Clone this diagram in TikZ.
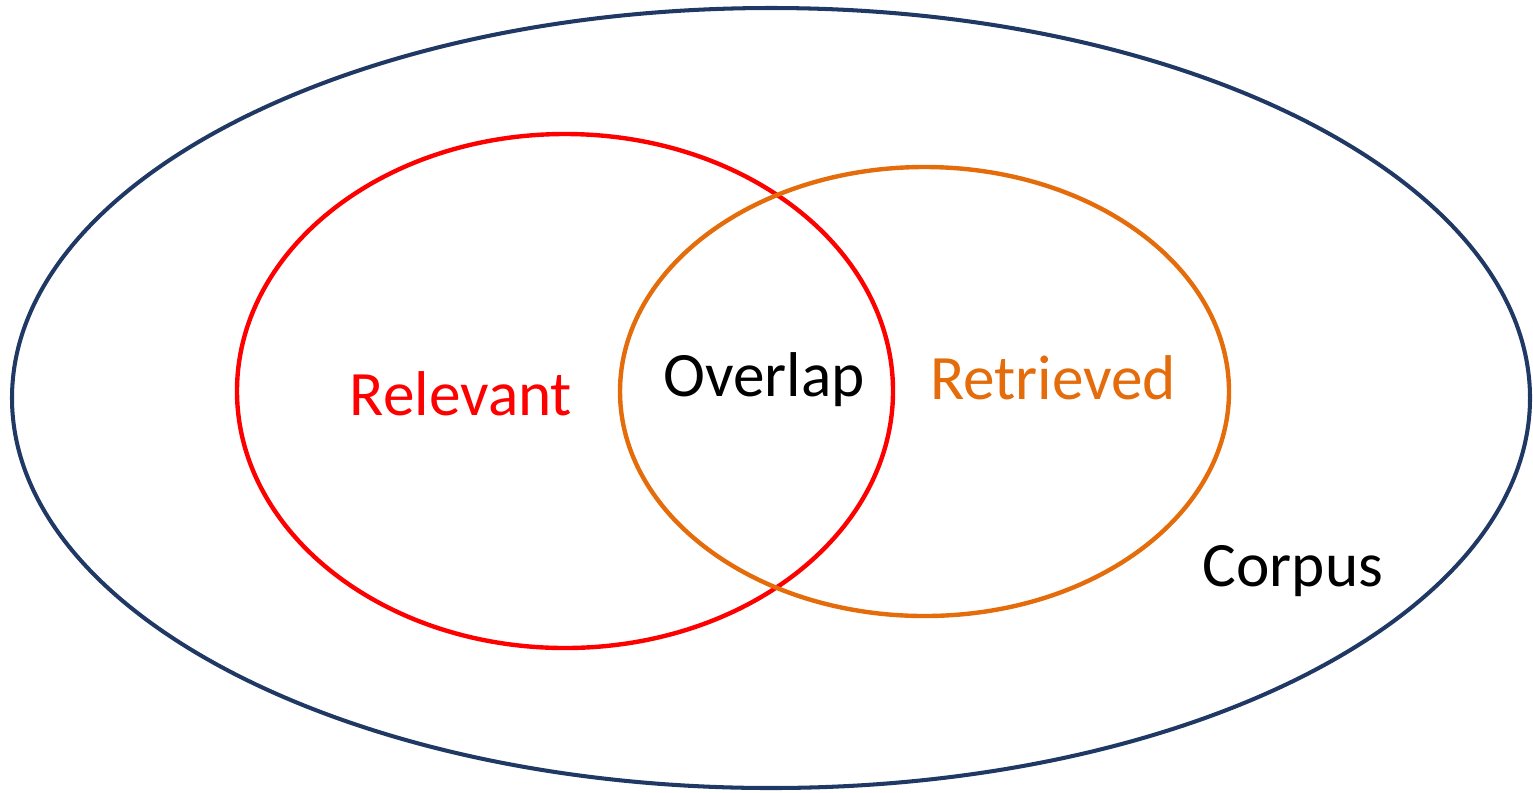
\documentclass[tikz,border=0pt]{standalone}
\usepackage{fontspec}
\setmainfont{Carlito}
\definecolor{navy}{RGB}{31,56,100}
\definecolor{relred}{RGB}{255,0,0}
\definecolor{retorange}{RGB}{228,108,10}
\begin{document}
\begin{tikzpicture}[x=0.02cm,y=-0.02cm,
  setline/.style={line width=2.5pt},
  lbl/.style={font=\fontsize{36}{43}\selectfont, inner sep=0pt}]
\useasboundingbox (0,0) rectangle (1533,792);
\coordinate (corpusc) at (771,398);
\coordinate (relc) at (565,391);
\coordinate (retc) at (924.5,391.5);
\draw[setline, navy, line width=2.3pt] (corpusc) ellipse [x radius=759, y radius=390];
\draw[setline, relred] (relc) ellipse [x radius=328, y radius=257];
\draw[setline, retorange] (retc) ellipse [x radius=304.5, y radius=224.5];
\node[lbl, text=relred] (relevant) at (461,394) {Relevant};
\node[lbl] (overlap) at (764,380) {Overlap};
\node[lbl, text=retorange] (retrieved) at (1053,378) {Retrieved};
\node[lbl] (corpus) at (1293,571) {Corpus};
\end{tikzpicture}
\end{document}
